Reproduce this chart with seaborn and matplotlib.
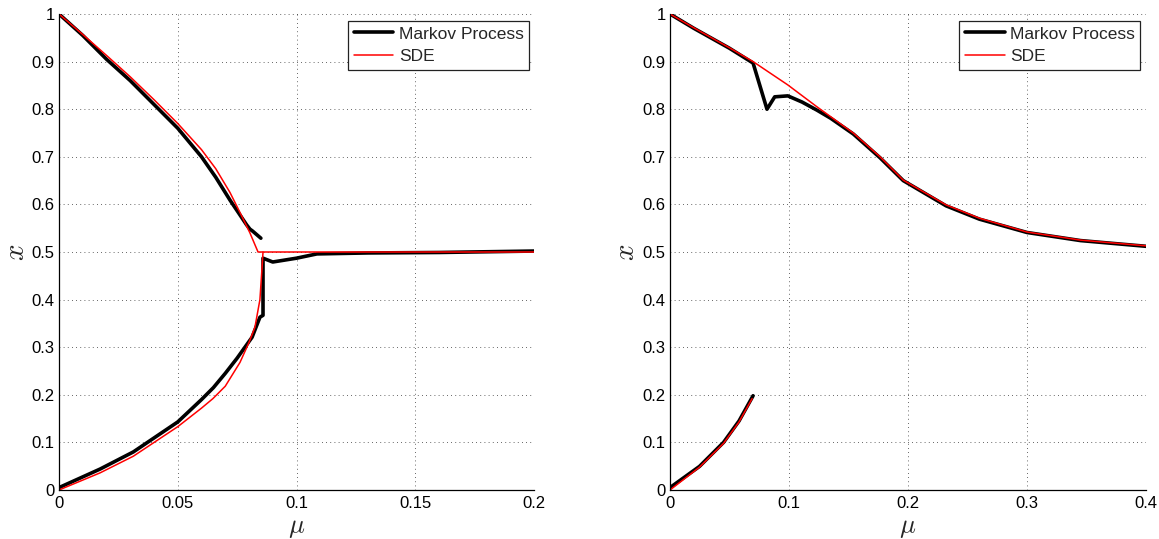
import numpy as np
import pandas as pd
import matplotlib
matplotlib.use("Agg")
import matplotlib.pyplot as plt
import seaborn as sns
from matplotlib.ticker import FuncFormatter

# ---------------- data ----------------
# Left panel
L_markov_up_mu = [0, 0.01, 0.02, 0.03, 0.04, 0.05, 0.06, 0.066, 0.072, 0.079, 0.0804, 0.0815, 0.085]
L_markov_up_x = [1.0, 0.955, 0.905, 0.86, 0.81, 0.76, 0.70, 0.657, 0.609, 0.557, 0.548, 0.544, 0.529]

L_markov_low_mu = [0, 0.0173, 0.0313, 0.05, 0.06, 0.065, 0.07, 0.075, 0.0813, 0.0846,
                   0.0859, 0.0859, 0.09, 0.10, 0.1086, 0.13, 0.16, 0.2]
L_markov_low_x = [0.005, 0.044, 0.080, 0.143, 0.19, 0.215, 0.245, 0.277, 0.321, 0.363,
                  0.367, 0.487, 0.479, 0.487, 0.496, 0.498, 0.499, 0.502]

L_sde_up_mu = [0, 0.01, 0.02, 0.03, 0.04, 0.05, 0.06, 0.066, 0.072, 0.0765, 0.0804, 0.0838, 0.2]
L_sde_up_x = [1.0, 0.957, 0.913, 0.868, 0.82, 0.77, 0.715, 0.675, 0.625, 0.58, 0.54, 0.50, 0.50]

L_sde_low_mu = [0, 0.0173, 0.0313, 0.05, 0.06, 0.0648, 0.07, 0.0762, 0.08, 0.0825, 0.0846, 0.0855, 0.0859]
L_sde_low_x = [0.0, 0.036, 0.071, 0.133, 0.172, 0.192, 0.218, 0.268, 0.31, 0.342, 0.40, 0.468, 0.50]

# Right panel
R_markov_up_mu = [0, 0.02, 0.05, 0.0698, 0.0815, 0.088, 0.099, 0.111, 0.1235, 0.135,
                  0.154, 0.1765, 0.196, 0.232, 0.26, 0.30, 0.345, 0.4]
R_markov_up_x = [1.0, 0.970, 0.928, 0.897, 0.80, 0.826, 0.828, 0.815, 0.798, 0.781,
                 0.748, 0.698, 0.650, 0.597, 0.569, 0.541, 0.524, 0.512]

R_markov_low_mu = [0, 0.0248, 0.045, 0.058, 0.0698]
R_markov_low_x = [0.005, 0.0496, 0.100, 0.145, 0.198]

R_sde_mu = [0, 0.02, 0.05, 0.0698, 0.099, 0.1235, 0.154, 0.1765, 0.196, 0.232, 0.26, 0.30, 0.345, 0.4]
R_sde_x = [1.0, 0.971, 0.929, 0.90, 0.851, 0.805, 0.75, 0.70, 0.651, 0.599, 0.571, 0.542, 0.525, 0.513]

R_sde_low_mu = [0, 0.0248, 0.045, 0.058, 0.069]
R_sde_low_x = [0.0, 0.048, 0.098, 0.143, 0.192]

L_xticks = [0, 0.05, 0.1, 0.15, 0.2]
R_xticks = [0, 0.1, 0.2, 0.3, 0.4]
yticks = [0, 0.1, 0.2, 0.3, 0.4, 0.5, 0.6, 0.7, 0.8, 0.9, 1.0]

series_names = ["Markov Process", "SDE"]

# ---------------- styling ----------------
sns.set_style("white")
plt.rcParams['font.family'] = ['Liberation Sans', 'DejaVu Sans']
plt.rcParams['mathtext.fontset'] = 'cm'

W, H = 1159, 539
fig = plt.figure(figsize=(W / 100, H / 100), dpi=100)

def px_axes(x0, x1, y0, y1):
    return fig.add_axes([x0 / W, 1 - y1 / H, (x1 - x0) / W, (y1 - y0) / H])

axL = px_axes(59, 534, 14, 490)
axR = px_axes(670, 1146, 14, 490)

fmt = FuncFormatter(lambda v, p: "%g" % round(v, 4))

def draw_line(ax, mu, x, color, lw, label=None):
    df = pd.DataFrame({"mu": mu, "x": x})
    sns.lineplot(data=df, x="mu", y="x", ax=ax, color=color, linewidth=lw,
                 sort=False, estimator=None, label=label, legend=False)

BLACK_LW = 2.6
RED_LW = 1.1

# Left
draw_line(axL, L_markov_up_mu, L_markov_up_x, "black", BLACK_LW, series_names[0])
draw_line(axL, L_markov_low_mu, L_markov_low_x, "black", BLACK_LW)
draw_line(axL, L_sde_up_mu, L_sde_up_x, "red", RED_LW, series_names[1])
draw_line(axL, L_sde_low_mu, L_sde_low_x, "red", RED_LW)

# Right
draw_line(axR, R_markov_up_mu, R_markov_up_x, "black", BLACK_LW, series_names[0])
draw_line(axR, R_markov_low_mu, R_markov_low_x, "black", BLACK_LW)
draw_line(axR, R_sde_mu, R_sde_x, "red", RED_LW, series_names[1])
draw_line(axR, R_sde_low_mu, R_sde_low_x, "red", RED_LW)

for ax, xt, leg_x in [(axL, L_xticks, 0.989), (axR, R_xticks, 0.987)]:
    ax.set_xlim(xt[0], xt[-1])
    ax.set_ylim(0, 1)
    ax.set_xticks(xt)
    ax.set_yticks(yticks)
    ax.xaxis.set_major_formatter(fmt)
    ax.yaxis.set_major_formatter(fmt)
    ax.tick_params(direction='in', length=4, width=0.8, labelsize=12, colors='black',
                   top=False, right=False)
    ax.tick_params(axis='x', pad=4)
    ax.tick_params(axis='y', pad=3)
    ax.grid(True, color='black', linestyle=(0, (1, 4)), linewidth=0.6, alpha=0.8)
    for s in ['top', 'right']:
        ax.spines[s].set_visible(False)
    for s in ['left', 'bottom']:
        ax.spines[s].set_color('black')
        ax.spines[s].set_linewidth(0.9)
    ax.set_xlabel(r'$\mu$', fontsize=19)
    ax.set_ylabel(r'$x$', fontsize=21)
    ax.xaxis.set_label_coords(0.5, -0.054)
    ax.yaxis.set_label_coords(-0.062, 0.5)
    leg = ax.legend(loc='upper right', bbox_to_anchor=(leg_x, 0.985), borderaxespad=0,
                    fontsize=12.5, frameon=True, fancybox=False, handlelength=2.3,
                    handletextpad=0.3, borderpad=0.3, labelspacing=0.45)
    leg.get_frame().set_edgecolor('#222222')
    leg.get_frame().set_linewidth(0.9)
    leg.get_frame().set_alpha(1)

fig.savefig("out.png", dpi=100)
